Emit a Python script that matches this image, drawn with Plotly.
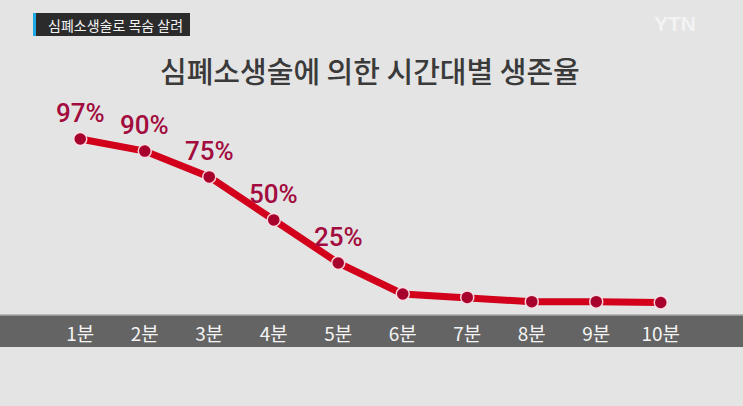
"""
CPR survival rate by elapsed minutes (YTN news graphic).
"""

import plotly.graph_objects as go

# ── Data ──
minutes = ["1분", "2분", "3분", "4분", "5분", "6분", "7분", "8분", "9분", "10분"]
survival = [97, 90, 75, 50, 25, 7, 5, 2.5, 2.5, 2]
labels = ["97%", "90%", "75%", "50%", "25%", "", "", "", "", ""]

W, H = 743, 406
L, R, T, B = 48, 50, 100, 91
PW, PH = W - L - R, H - T - B


def px(x):
    return (x - L) / PW


def py(y):
    return (H - B - y) / PH


fig = go.Figure()

# ── Line + markers ──
fig.add_trace(go.Scatter(
    x=minutes,
    y=survival,
    mode="lines",
    line=dict(color="#d2001a", width=7),
    hoverinfo="skip",
    cliponaxis=False,
))
fig.add_trace(go.Scatter(
    x=minutes,
    y=survival,
    mode="markers",
    marker=dict(size=13, color="#a8002c",
                line=dict(color="rgba(255,230,235,0.9)", width=1.5)),
    hoverinfo="skip",
    cliponaxis=False,
))

# ── Percent labels ──
for m, v, t in zip(minutes, survival, labels):
    if t:
        fig.add_annotation(
            x=m, y=v, text=t, showarrow=False, yshift=26,
            xanchor="center", yanchor="middle",
            font=dict(family="Liberation Sans Narrow, Roboto",
                      size=26, color="#a20c3e", weight=500),
        )

# ── Dark band behind tick labels ──
fig.add_shape(type="rect", xref="paper", yref="paper",
              x0=-0.2, x1=1.2, y0=py(347), y1=py(315),
              fillcolor="#646464", line_width=0, layer="below")
fig.add_shape(type="line", xref="paper", yref="paper",
              x0=-0.2, x1=1.2, y0=py(315), y1=py(315),
              line=dict(color="#a8a8a8", width=1.5), layer="below")

# ── Caption box top-left ──
fig.add_shape(type="rect", xref="paper", yref="paper",
              x0=px(33), x1=px(190), y0=py(36), y1=py(13),
              fillcolor="#2b2b2b", line_width=0, layer="below")
fig.add_shape(type="rect", xref="paper", yref="paper",
              x0=px(33), x1=px(36), y0=py(36), y1=py(13),
              fillcolor="#1da8e6", line_width=0, layer="below")
fig.add_annotation(
    xref="paper", yref="paper", x=px(115), y=py(24.5),
    xanchor="center", yanchor="middle",
    text="심폐소생술로 목숨 살려", showarrow=False,
    font=dict(family="Noto Sans CJK KR", size=14, color="#f4f4f4"),
)

# ── YTN logo ──
fig.add_annotation(
    xref="paper", yref="paper", x=px(675), y=py(24),
    xanchor="center", yanchor="middle",
    text="<b>YTN</b>", showarrow=False,
    font=dict(family="Liberation Sans", size=21, color="#f3f3f3"),
)

# ── Title ──
fig.add_annotation(
    xref="paper", yref="paper", x=px(370), y=py(70),
    xanchor="center", yanchor="middle",
    text="심폐소생술에 의한 시간대별 생존율", showarrow=False,
    font=dict(family="Noto Sans CJK KR", size=29, color="#3a3a3a", weight=500),
)

# ── Layout ──
fig.update_layout(
    width=W,
    height=H,
    margin=dict(l=L, r=R, t=T, b=B),
    paper_bgcolor="#e4e4e4",
    plot_bgcolor="#e4e4e4",
    showlegend=False,
    xaxis=dict(
        type="category",
        range=[-0.5, 9.5],
        showgrid=False,
        zeroline=False,
        showline=False,
        ticks="outside",
        ticklen=2,
        tickcolor="rgba(0,0,0,0)",
        tickfont=dict(family="Noto Sans CJK KR", size=19, color="#f4f4f4"),
    ),
    yaxis=dict(
        range=[-5.23, 119.66],
        visible=False,
    ),
)

fig.write_html("out.html", config={"displayModeBar": False},
               post_script="document.body.style.margin='0';")
